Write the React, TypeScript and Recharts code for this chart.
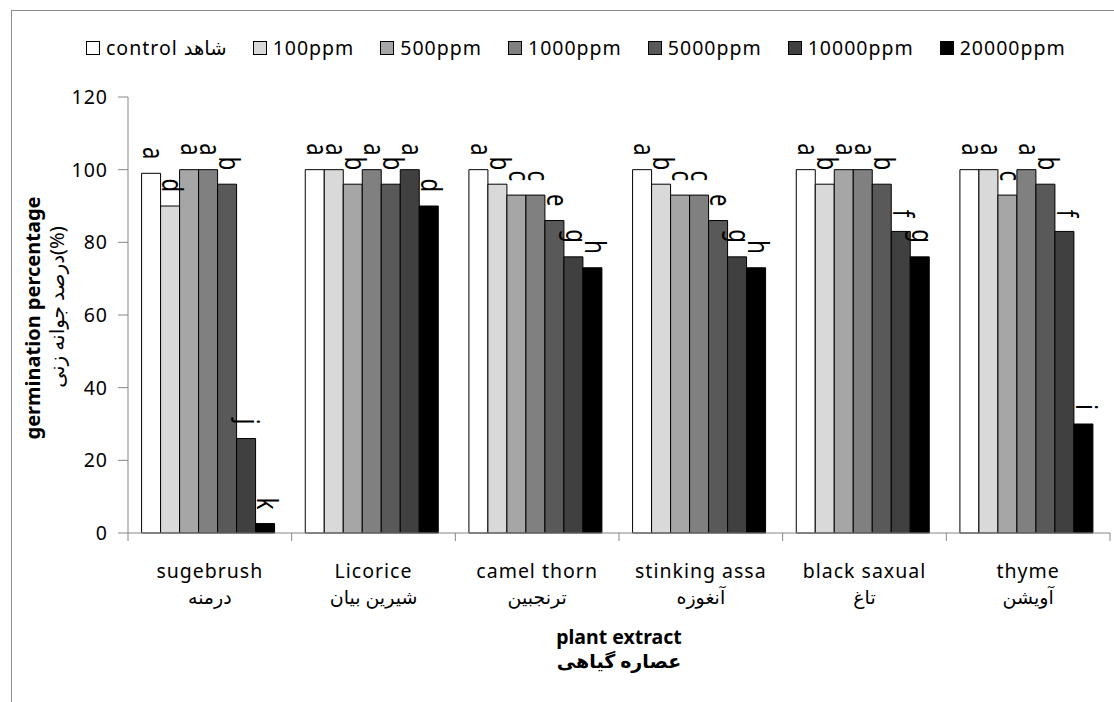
import React from 'react';
import { BarChart, Bar, XAxis, YAxis, Legend, LabelList, Label } from 'recharts';

const FONT = "'Noto Sans', 'DejaVu Sans', sans-serif";

const categoriesEn = ['sugebrush', 'Licorice', 'camel thorn', 'stinking assa', 'black saxual', 'thyme'];
const categoriesFa = ['درمنه', 'شیرین بیان', 'ترنجبین', 'آنغوزه', 'تاغ', 'آویشن'];

const seriesKeys = ['control', 'p100', 'p500', 'p1000', 'p5000', 'p10000', 'p20000'];
const seriesNames = ['control شاهد', '100ppm', '500ppm', '1000ppm', '5000ppm', '10000ppm', '20000ppm'];
const seriesColors = ['#ffffff', '#d9d9d9', '#a6a6a6', '#808080', '#595959', '#404040', '#000000'];

const controlValues = [99, 100, 100, 100, 100, 100];
const p100Values = [90, 100, 96, 96, 96, 100];
const p500Values = [100, 96, 93, 93, 100, 93];
const p1000Values = [100, 100, 93, 93, 100, 100];
const p5000Values = [96, 96, 86, 86, 96, 96];
const p10000Values = [26, 100, 76, 76, 83, 83];
const p20000Values = [2.6, 90, 73, 73, 76, 30];

const controlLetters = ['a', 'a', 'a', 'a', 'a', 'a'];
const p100Letters = ['d', 'a', 'b', 'b', 'b', 'a'];
const p500Letters = ['a', 'b', 'c', 'c', 'a', 'c'];
const p1000Letters = ['a', 'a', 'c', 'c', 'a', 'a'];
const p5000Letters = ['b', 'b', 'e', 'e', 'b', 'b'];
const p10000Letters = ['j', 'a', 'g', 'g', 'f', 'f'];
const p20000Letters = ['k', 'd', 'h', 'h', 'g', 'i'];

const yTicks = [0, 20, 40, 60, 80, 100, 120];
const yTitle = 'germination percentage';
const yTitleFa = 'درصد جوانه زنی(%)';
const xTitle = 'plant extract';
const xTitleFa = 'عصاره گیاهی';

const seriesValues = [controlValues, p100Values, p500Values, p1000Values, p5000Values, p10000Values, p20000Values];
const seriesLetters = [controlLetters, p100Letters, p500Letters, p1000Letters, p5000Letters, p10000Letters, p20000Letters];

const data = categoriesEn.map((name, i) => {
  const row: Record<string, any> = { name, fa: categoriesFa[i] };
  seriesKeys.forEach((k, s) => {
    row[k] = seriesValues[s][i];
    row['l_' + k] = seriesLetters[s][i];
  });
  return row;
});

const W = 1114;
const H = 702;
const MARGIN = { top: 97, right: 4, bottom: 69, left: 0 };
const YAXIS_W = 128;
const XAXIS_H = 100;
const AXIS_COLOR = '#868686';
const HALF_BAND = (W - MARGIN.left - MARGIN.right - YAXIS_W) / categoriesEn.length / 2;

const BarLetter = (props: any) => {
  const { x, y, width, value } = props;
  if (value == null) return null;
  const cx = Number(x) + Number(width) / 2;
  const yEnd = Number(y) - 14;
  return (
    <text
      transform={`translate(${cx},${yEnd}) rotate(90) scale(1,1.3)`}
      x={0}
      y={0}
      dy="0.27em"
      textAnchor="end"
      fontFamily={FONT}
      fontSize={22}
      fill="#000"
    >
      {value}
    </text>
  );
};

const XTick = (props: any) => {
  const { x, y, payload, index } = props;
  const i = categoriesEn.indexOf(payload.value);
  const isLast = index === categoriesEn.length - 1;
  return (
    <g>
      <line x1={x - HALF_BAND} x2={x - HALF_BAND} y1={y} y2={y + 8} stroke={AXIS_COLOR} strokeWidth={1} />
      {isLast && <line x1={x + HALF_BAND} x2={x + HALF_BAND} y1={y} y2={y + 8} stroke={AXIS_COLOR} strokeWidth={1} />}
      <text x={x} y={y + 45} textAnchor="middle" fontFamily={FONT} fontSize={19.5} letterSpacing={1} fill="#000">
        {payload.value}
      </text>
      <text x={x} y={y + 71} textAnchor="middle" fontFamily={FONT} fontSize={19} fill="#000">
        {categoriesFa[i]}
      </text>
    </g>
  );
};

const YTitle = (props: any) => {
  const vb = props.viewBox || { x: 0, y: MARGIN.top, width: YAXIS_W, height: 436 };
  const cy = vb.y + vb.height / 2;
  return (
    <g>
      <text
        transform={`translate(${vb.x + 40},${cy + 3}) rotate(-90)`}
        textAnchor="middle"
        fontFamily={FONT}
        fontWeight="bold"
        fontSize={20}
        fill="#000"
      >
        {yTitle}
      </text>
      <text
        transform={`translate(${vb.x + 64},${cy - 8}) rotate(-90)`}
        textAnchor="middle"
        fontFamily={FONT}
        fontSize={20}
        fill="#000"
      >
        {yTitleFa}
      </text>
    </g>
  );
};

const XTitle = (props: any) => {
  const vb = props.viewBox || { x: YAXIS_W, y: 533, width: 982, height: XAXIS_H };
  const cx = vb.x + vb.width / 2;
  return (
    <g>
      <text x={cx} y={vb.y + 111} textAnchor="middle" fontFamily={FONT} fontWeight="bold" fontSize={19.5} fill="#000">
        {xTitle}
      </text>
      <text x={cx} y={vb.y + 135} textAnchor="middle" fontFamily={FONT} fontWeight="bold" fontSize={19} fill="#000">
        {xTitleFa}
      </text>
    </g>
  );
};

const LegendContent = () => (
  <div
    style={{
      display: 'flex',
      alignItems: 'center',
      fontFamily: FONT,
      fontSize: 19.5,
      letterSpacing: 1,
      color: '#000',
      whiteSpace: 'nowrap',
      lineHeight: '27px',
    }}
  >
    {seriesNames.map((n, i) => (
      <div key={n} style={{ display: 'flex', alignItems: 'center', marginRight: 26 }}>
        <span
          style={{
            display: 'inline-block',
            width: 12,
            height: 12,
            border: '1px solid #000',
            background: seriesColors[i],
            marginRight: 6,
          }}
        />
        <span>{n}</span>
      </div>
    ))}
  </div>
);

export default function App() {
  return (
    <div style={{ position: 'absolute', left: 0, top: 0, width: W, height: H, overflow: 'hidden', background: '#fff' }}>
      <div
        style={{
          position: 'absolute',
          left: 11,
          top: 10,
          width: W,
          height: H,
          borderLeft: '1px solid #8c8c8c',
          borderTop: '1px solid #8c8c8c',
        }}
      />
      <div style={{ position: 'absolute', left: 0, top: 0 }}>
        <BarChart
          width={W}
          height={H}
          data={data}
          margin={MARGIN}
          barCategoryGap="8.3%"
          barGap={0}
        >
          <XAxis
            dataKey="name"
            height={XAXIS_H}
            axisLine={{ stroke: AXIS_COLOR, strokeWidth: 1 }}
            tickLine={false}
            tickSize={0}
            tickMargin={0}
            interval={0}
            tick={<XTick />}
          >
            <Label content={<XTitle />} />
          </XAxis>
          <YAxis
            width={YAXIS_W}
            domain={[0, 120]}
            ticks={yTicks}
            interval={0}
            axisLine={{ stroke: AXIS_COLOR, strokeWidth: 1 }}
            tickLine={{ stroke: AXIS_COLOR, strokeWidth: 1 }}
            tickSize={10}
            tickMargin={10}
            tick={{ fill: '#000', fontSize: 19.5, fontFamily: FONT, letterSpacing: 1 }}
          >
            <Label content={<YTitle />} />
          </YAxis>
          <Legend
            verticalAlign="middle"
            align="center"
            layout="horizontal"
            wrapperStyle={{ top: 34, left: 86, width: 1024, height: 27 }}
            content={<LegendContent />}
          />
          {seriesKeys.map((k, i) => (
            <Bar
              key={k}
              dataKey={k}
              name={seriesNames[i]}
              fill={seriesColors[i]}
              stroke="#000"
              strokeWidth={1}
              isAnimationActive={false}
            >
              <LabelList dataKey={'l_' + k} content={<BarLetter />} />
            </Bar>
          ))}
        </BarChart>
      </div>
    </div>
  );
}
